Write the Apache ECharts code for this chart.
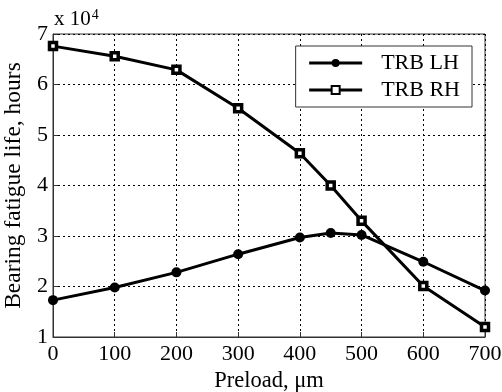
<!DOCTYPE html>
<html><head><meta charset="utf-8">
<script src="https://cdn.jsdelivr.net/npm/echarts@6/dist/echarts.min.js"></script>
<style>html,body{margin:0;padding:0;background:#fff}#c{width:502px;height:392px}</style>
</head><body><div id="c"></div>
<script>
var preload = [0, 100, 200, 300, 400, 450, 500, 600, 700];
var lhLife = [17300, 19800, 22800, 26400, 29700, 30600, 30200, 24900, 19200];
var rhLife = [67600, 65600, 62900, 55300, 46400, 40000, 33000, 20100, 12000];
var seriesNames = ['TRB LH', 'TRB RH'];
var FONT = 'Liberation Serif';

function pairs(xs, ys){ return xs.map(function(x,i){ return [x, ys[i]]; }); }

var chart = echarts.init(document.getElementById('c'));
chart.setOption({
  animation: false,
  backgroundColor: '#fff',
  grid: { left: 53, right: 17, top: 34, bottom: 55, outerBoundsMode: 'none', containLabel: false,
          show: true, borderColor: '#333', borderWidth: 1, backgroundColor: 'transparent' },
  xAxis: {
    type: 'value', min: 0, max: 700, interval: 100,
    name: 'Preload, μm', nameLocation: 'middle', nameGap: 30,
    nameTextStyle: { fontFamily: FONT, fontSize: 22.5, color: '#000' },
    axisLine: { show: true, lineStyle: { color: '#333' } },
    axisTick: { show: true, inside: true, length: 5, lineStyle: { color: '#333' } },
    axisLabel: { fontFamily: FONT, fontSize: 22, color: '#000', margin: 6 },
    splitLine: { show: true, lineStyle: { color: '#000', type: [2, 3], width: 1 } }
  },
  yAxis: {
    type: 'value', min: 10000, max: 70000, interval: 10000,
    name: 'Bearing fatigue life, hours', nameLocation: 'middle', nameGap: 22,
    nameTextStyle: { fontFamily: FONT, fontSize: 23.5, color: '#000' },
    axisLine: { show: true, lineStyle: { color: '#333' } },
    axisTick: { show: true, inside: true, length: 5, lineStyle: { color: '#333' } },
    axisLabel: { fontFamily: FONT, fontSize: 22, color: '#000', margin: 5, formatter: function(v){ return String(v/10000); } },
    splitLine: { show: true, lineStyle: { color: '#000', type: [2, 3], width: 1 } }
  },
  legend: {
    orient: 'vertical', right: 30, top: 46,
    backgroundColor: '#fff', borderColor: '#333', borderWidth: 1,
    padding: [6, 12, 6, 12], itemGap: 5, itemWidth: 53, itemHeight: 10,
    lineStyle: { width: 3, color: '#000' },
    textStyle: { fontFamily: FONT, fontSize: 22, color: '#000', padding: [0, 0, 0, 14] },
    data: seriesNames
  },
  graphic: [{
    type: 'text', left: 54, top: 8,
    style: {
      text: '{a|x 10}{b|4}', fill: '#000',
      rich: { a: { fontFamily: FONT, fontSize: 21, fill: '#000' }, b: { fontFamily: FONT, fontSize: 14, fill: '#000', verticalAlign: 'top', padding: [0,0,8,1] } }
    }
  }],
  series: [
    { name: seriesNames[0], type: 'line', data: pairs(preload, lhLife), symbol: 'circle', symbolSize: 10,
      lineStyle: { color: '#000', width: 3 }, itemStyle: { color: '#000' } },
    { name: seriesNames[1], type: 'line', data: pairs(preload, rhLife), symbol: 'rect', symbolSize: 7,
      lineStyle: { color: '#000', width: 3 }, itemStyle: { color: '#fff', borderColor: '#000', borderWidth: 3.5 } }
  ]
});
</script></body></html>
